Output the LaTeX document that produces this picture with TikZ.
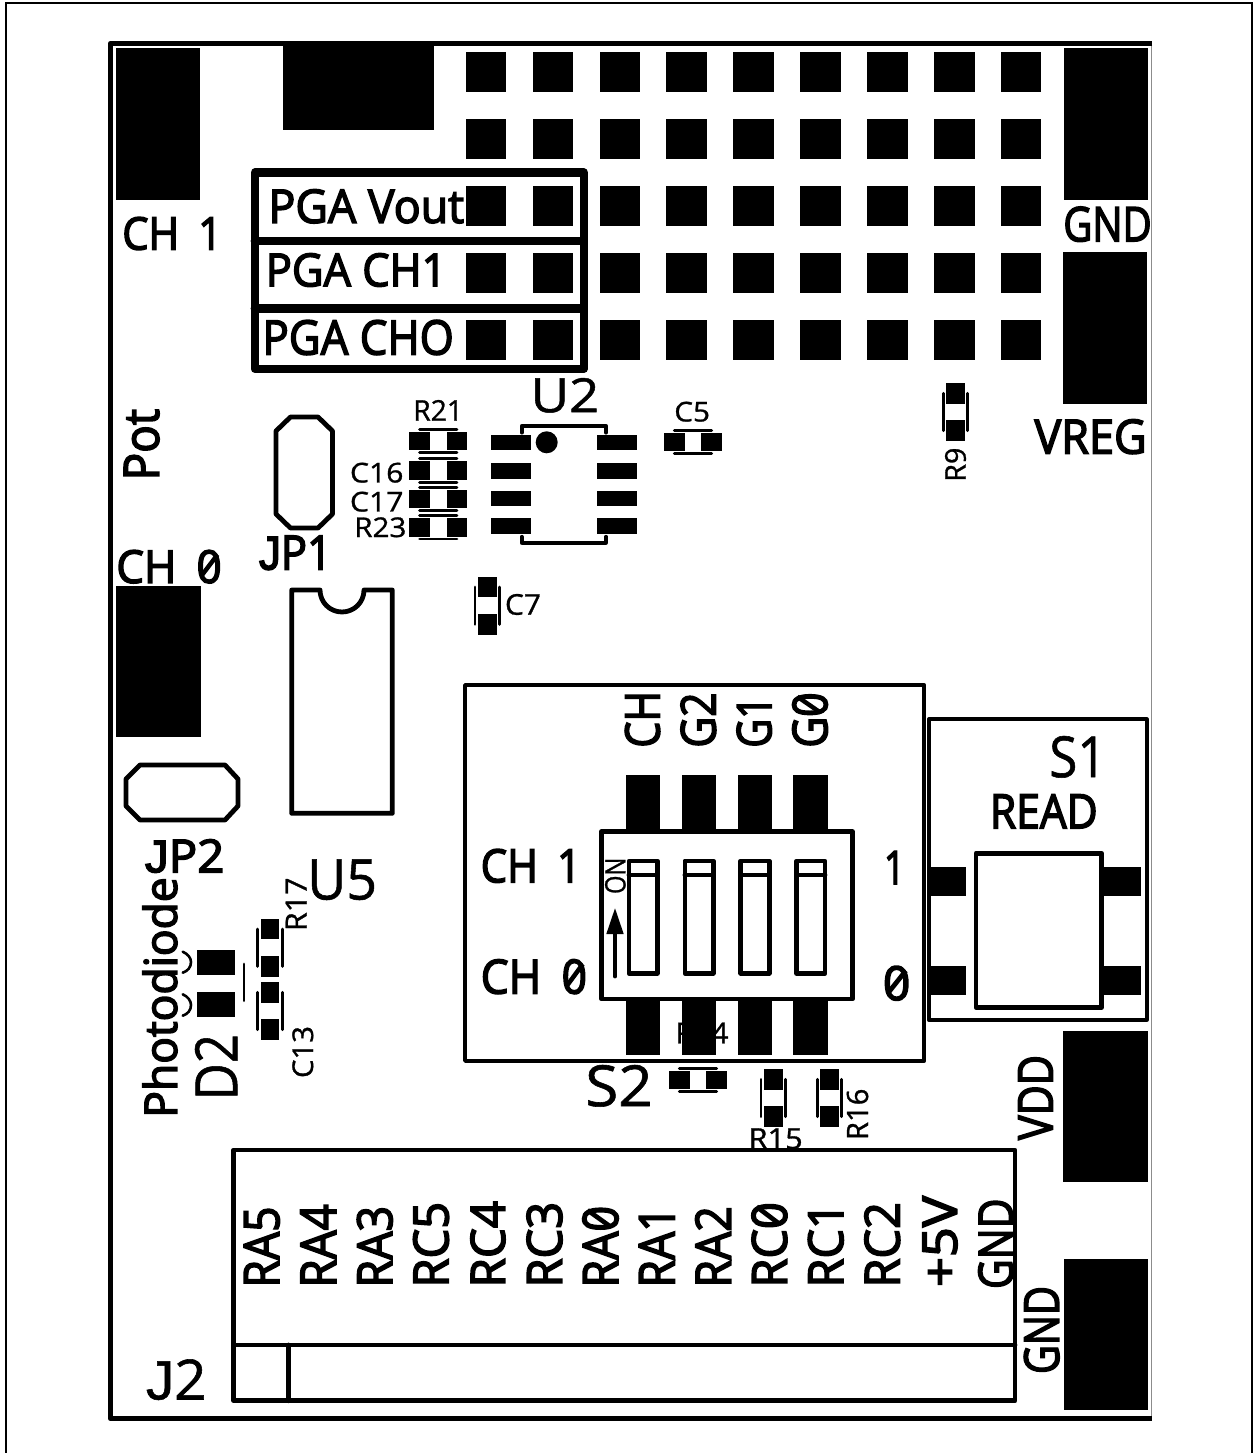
\documentclass[tikz,border=0pt]{standalone}
\usepackage{fontspec}
\usepackage{graphicx}
\setmainfont{Open Sans}[FakeBold=3.2]
\newfontfamily\ltf{Open Sans}[FakeBold=1]
\newfontfamily\jf{Liberation Sans}[FakeBold=3.2]
\newfontfamily\ljf{Liberation Sans}[FakeBold=1]
\newcommand\zr{\ooalign{0\cr\hidewidth\raisebox{.33em}{\rotatebox[origin=c]{52}{\rule{.62em}{.1em}}}\hidewidth\cr}}
\tikzset{
  lab/.style={inner sep=0pt,outer sep=0pt,text=black},
  padfill/.style={fill=black,draw=none},
  wire/.style={draw=black,line cap=round,line join=round},
  thin outline/.style={wire,line width=3.7pt},
  heavy outline/.style={wire,line width=4.8pt},
  pga/.style={wire,line width=8.2pt},
  smdline/.style={wire,line width=2.8pt},
  edgeline/.style={draw=black,line width=5.3pt,line join=round},
  frameline/.style={draw=black,line width=2pt},
  hair/.style={draw=black!45,line width=1pt}
}
% horizontal label from its ink box: name, x0, x1, y0, y1, text
\newcommand\hl[6]{%
  \pgfmathsetmacro\lw{#3-#2}\pgfmathsetmacro\lh{#5-#4}%
  \node[lab] (#1) at ({(#2+#3)/2},{(#4+#5)/2}) {\resizebox*{\lw pt}{\lh pt}{#6}};}
% label reading upwards
\newcommand\vl[6]{%
  \pgfmathsetmacro\lw{#5-#4}\pgfmathsetmacro\lh{#3-#2}%
  \node[lab,rotate=90] (#1) at ({(#2+#3)/2},{(#4+#5)/2}) {\resizebox*{\lw pt}{\lh pt}{#6}};}
\newcommand\pad[4]{\fill[padfill] (#1,#2) rectangle (#3,#4);}
\newcommand\smdh[2]{%
  \fill[padfill] ({#1-29},{#2-9.3}) rectangle ({#1-8.4},{#2+9.3});
  \fill[padfill] ({#1+8.4},{#2-9.3}) rectangle ({#1+29},{#2+9.3});
  \draw[smdline] ({#1-18.7},{#2-11.7}) -- ({#1+18.7},{#2-11.7});
  \draw[smdline] ({#1-18.7},{#2+11.7}) -- ({#1+18.7},{#2+11.7});}
\newcommand\smdv[2]{%
  \fill[padfill] ({#1-9.3},{#2-29}) rectangle ({#1+9.3},{#2-8.4});
  \fill[padfill] ({#1-9.3},{#2+8.4}) rectangle ({#1+9.3},{#2+29});
  \draw[smdline] ({#1-12.3},{#2-18.7}) -- ({#1-12.3},{#2+18.7});
  \draw[smdline] ({#1+12.3},{#2-18.7}) -- ({#1+12.3},{#2+18.7});}
\begin{document}
\begin{tikzpicture}[x=1pt,y=-1pt]
\useasboundingbox (0,0) rectangle (1254,1453);
\fill[white] (0,0) rectangle (1254,1453);
% sheet frame, open at the bottom
\draw[frameline] (5.7,1453) -- (5.7,2.7) -- (1252.3,2.7) -- (1252.3,1453);
% board edge
\draw[hair] (1151.5,44) -- (1151.5,1418);
\draw[edgeline] (1152,43.3) -- (110.5,43.3) -- (110.5,1418.7) -- (1152,1418.7);
% large pads
\pad{115.7}{48.3}{200}{200}
\pad{282.7}{43}{434.3}{130}
\pad{1064}{48.3}{1148.3}{200}
\pad{1063}{252.3}{1147.3}{404}
\pad{1063.3}{1030.7}{1148}{1182}
\pad{1064}{1258.7}{1148.3}{1410}
\pad{116.3}{585.7}{201}{736.7}
% pad grid
\foreach \i in {0,...,8}{
  \foreach \yy in {51.7,119,186,253,320}{
    \pgfmathsetmacro\xx{465.7+66.93*\i}
    \fill[padfill] (\xx,\yy) rectangle ({\xx+40.3},{\yy+40.3});
  }}
% PGA box
\draw[pga] (254.7,172.5) rectangle (583.8,368.8);
\draw[pga] (254.7,240.8) -- (583.8,240.8);
\draw[pga] (254.7,308.5) -- (583.8,308.5);
\hl{pgavout}{268.5}{464}{189.3}{223.3}{PGA Vout}
\hl{pgach1}{265.8}{446.5}{253.3}{286.7}{PGA CH1}
\hl{pgacho}{262.5}{453.8}{320}{355}{PGA CHO}
% labels, upper left
\hl{lch1}{122.3}{222}{217}{250}{CH\hspace{.2em} 1}
\vl{lpot}{124}{159.3}{409}{480.3}{Pot}
\hl{lch0}{116.3}{221.7}{550}{583.3}{CH\hspace{.2em} \zr}
\hl{ljp1}{259}{332}{535.7}{570}{{\jf J}P1}
\hl{lr21}{413.3}{463}{400}{420.7}{\ltf R21}
\hl{lc16}{350}{403.4}{462.7}{482.7}{\ltf C16}
\hl{lc17}{350}{403.4}{491.7}{511.7}{\ltf C17}
\hl{lr23}{354.3}{406.4}{517.3}{537.3}{\ltf R23}
\hl{lu2}{530.7}{599.3}{378}{412.7}{\ltf U2}
\hl{lc5}{674.3}{710}{401.7}{421.7}{\ltf C5}
\hl{lc7}{505}{541}{594}{615}{\ltf C7}
\vl{lr9}{945}{966}{447.6}{481.7}{\ltf R9}
\hl{lgnda}{1063.3}{1151.7}{206.7}{241.7}{GND}
\hl{lvreg}{1034.5}{1146.7}{419.3}{454}{VREG}
% jumpers
\draw[heavy outline] (290.5,417) -- (318,417) -- (332.5,431) -- (332.5,514) -- (318,528) -- (290.5,528) -- (276,514) -- (276,431) -- cycle;
\draw[heavy outline] (140,765) -- (225,765) -- (238,779) -- (238,806) -- (225,820) -- (140,820) -- (126,806) -- (126,779) -- cycle;
% U5
\draw[heavy outline] (320,590) -- (291.7,590) -- (291.7,813.3) -- (392.3,813.3) -- (392.3,590) -- (364,590)
  .. controls (364,602.4) and (354,612) .. (342,612) .. controls (330,612) and (320,602.4) .. (320,590) -- cycle;
\hl{ljp2}{145}{224.3}{839.3}{872.7}{{\jf J}P2}
\hl{lu5}{307.3}{377}{859.3}{900}{\ltf U5}
\vl{lr17}{285.7}{306.7}{877.5}{931}{\ltf R17}
\vl{lphoto}{142.7}{177.3}{877.3}{1117.7}{Photodiode}
\vl{ld2}{195}{237.3}{1034}{1100.3}{\ltf D2}
\vl{lc13}{292.3}{313.3}{1026}{1078}{\ltf C13}
% D2
\pad{196.7}{950}{235}{975}
\pad{196.7}{991.7}{235}{1016.7}
\draw[smdline] (244,964) -- (244,1000.7);
\draw[wire,line width=2.6pt] (182.7,951.7) .. controls (188,954) and (191,958) .. (191,962) .. controls (191,967) and (188,971) .. (182.7,972.7);
\draw[wire,line width=2.6pt] (182.7,994.3) .. controls (188,996.5) and (191,1001) .. (191,1005) .. controls (191,1010) and (188,1014) .. (182.7,1015.7);
% small parts
\smdh{438.3}{441}\smdh{438.3}{470.5}\smdh{438.3}{498.8}\smdh{438.3}{527.2}
\smdh{693}{442}
\smdv{487.3}{605.7}
\smdv{955.5}{412}
\smdv{270}{947.8}
\smdv{270}{1011}
% U2
\foreach \yy in {435,463.3,490.7,518.3}{
  \fill[padfill] (490.7,\yy) rectangle (530.7,{\yy+15.4});
  \fill[padfill] (596.7,\yy) rectangle (636.7,{\yy+15.4});
}
\draw[thin outline] (521.7,432.7) -- (521.7,425.7) -- (606,425.7) -- (606,432.7);
\draw[thin outline] (521.7,536.7) -- (521.7,542.7) -- (606,542.7) -- (606,536.7);
\fill[black] (546.7,442.3) circle (11pt);
% S2
\draw[thin outline] (465,685) rectangle (924.3,1061);
\vl{lsch}{625}{660}{691}{747.7}{CH}
\vl{lsg2}{680.7}{716}{692.5}{747.7}{G2}
\vl{lsg1}{736.7}{771.7}{696}{747.7}{G1}
\vl{lsg0}{792.3}{827.7}{692.5}{747.7}{G\zr}
\hl{lsc1}{480.7}{581}{849}{882.7}{CH\hspace{.2em} 1}
\hl{lsc0}{480.7}{587}{959.3}{994}{CH\hspace{.2em} \zr}
\hl{lsn1}{884}{905}{851}{884}{1}
\hl{lsn0}{883}{910.3}{966}{1000}{\zr}
\hl{lr14}{675.3}{728.5}{1022.7}{1043.3}{\ltf R14}
\foreach \xx in {626,681.7,737.7,793.3}{
  \fill[padfill] (\xx,775) rectangle ({\xx+34.2},832);
  \fill[padfill] (\xx,998) rectangle ({\xx+34.2},1055);
}
\draw[heavy outline] (601.7,831.7) rectangle (852.3,999);
\foreach \xx in {629,684.9,740.8,796.7}{
  \draw[heavy outline] (\xx,861) rectangle ({\xx+28.3},973.3);
  \draw[heavy outline] (\xx,875) -- ({\xx+28.3},875);
}
\vl{lon}{605}{625.7}{857.6}{894}{\ltf ON}
\coordinate (arrowtail) at (615,976.7);
\coordinate (arrowneck) at (615,934);
\draw[wire,line width=3.3pt] (arrowtail) -- (arrowneck);
\fill[black] (615,908.3) -- (623.7,934) -- (606.3,934) -- cycle;
\hl{ls2}{585.3}{652.7}{1065}{1106.7}{\ltf S2}
\smdh{698}{1080}
\hl{lr15}{748.6}{802.7}{1128.3}{1149}{\ltf R15}
\smdv{773.3}{1098}
\smdv{829.5}{1098}
\vl{lr16}{846.7}{868.3}{1088.6}{1140}{\ltf R16}
% S1
\draw[thin outline] (928.7,719.3) rectangle (1146.7,1020);
\pad{930.7}{866.7}{966}{896}
\pad{930.7}{965.7}{966}{995}
\pad{1104.3}{866.7}{1141}{896}
\pad{1104.3}{965.7}{1141}{995}
\draw[heavy outline] (976,853.3) rectangle (1101.7,1007.3);
\hl{ls1}{1049.3}{1106.5}{736}{777.7}{\ltf S1}
\hl{lread}{990}{1097.7}{794.3}{828.3}{READ}
\vl{lvdd}{1018.3}{1052.7}{1055}{1140}{VDD}
% J2
\draw[heavy outline] (233.7,1150) rectangle (1015,1400.7);
\draw[heavy outline] (233.7,1345) -- (1015,1345);
\draw[heavy outline] (288.6,1345) -- (288.6,1400.7);
\hl{lj2}{146}{206.6}{1359.3}{1400}{\ltf{\ljf J}2}
\vl{lra5}{244}{279.6}{1206.5}{1287.5}{RA5}
\vl{lra4}{300.5}{336}{1204.2}{1287.5}{RA4}
\vl{lra3}{357}{392.6}{1205.9}{1287.5}{RA3}
\vl{lrc5}{413.2}{448.8}{1201.9}{1287.5}{RC5}
\vl{lrc4}{470.5}{505.3}{1200.9}{1287.5}{RC4}
\vl{lrc3}{526.7}{562.3}{1201.9}{1287.5}{RC3}
\vl{lra0}{582.5}{618}{1205.9}{1287.5}{RA\zr}
\vl{lra1}{639}{674.5}{1206.2}{1287.5}{RA1}
\vl{lra2}{695.3}{730.8}{1206.2}{1287.5}{RA2}
\vl{lrc0}{751.7}{787.2}{1202.2}{1287.5}{RC\zr}
\vl{lrc1}{808}{843.5}{1202.2}{1287.5}{RC1}
\vl{lrc2}{864.5}{900}{1202.2}{1287.5}{RC2}
\vl{lp5v}{922.7}{957.3}{1196}{1287}{+5V}
\vl{lgndj}{978.3}{1013.3}{1198.5}{1289}{GND}
\vl{lgndb}{1024}{1059.3}{1286}{1374}{GND}
\end{tikzpicture}
\end{document}
